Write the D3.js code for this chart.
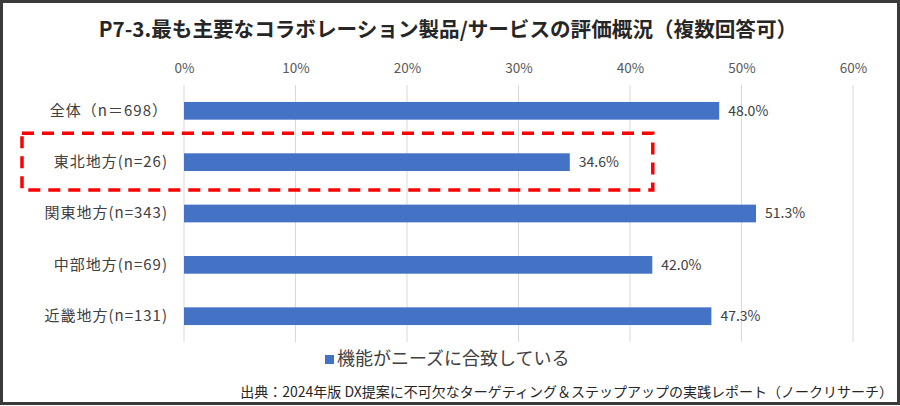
<!DOCTYPE html>
<html>
<head>
<meta charset="utf-8">
<script src="https://cdn.jsdelivr.net/npm/d3@7"></script>
<style>
  html, body { margin: 0; padding: 0; background: #fff; }
  svg { display: block; font-family: "Noto Sans CJK JP", "Noto Sans", sans-serif; }
</style>
</head>
<body>
<div id="chart"></div>
<script>
var categories = ["全体（n＝698）", "東北地方(n=26)", "関東地方(n=343)", "中部地方(n=69)", "近畿地方(n=131)"];
var values = [48.0, 34.6, 51.3, 42.0, 47.3];
var tickValues = [0, 10, 20, 30, 40, 50, 60];
var highlighted = "東北地方(n=26)";
var seriesName = "機能がニーズに合致している";
var title = "P7-3.最も主要なコラボレーション製品/サービスの評価概況（複数回答可）";
var source = "出典：2024年版 DX提案に不可欠なターゲティング＆ステップアップの実践レポート（ノークリサーチ）";

var W = 900, H = 406;
var margin = {top: 85, right: 47, bottom: 64, left: 184};
var width = W - margin.left - margin.right;
var height = H - margin.top - margin.bottom;

var svg = d3.select("#chart")
  .append("svg")
    .attr("width", W)
    .attr("height", H);

// frame
svg.append("rect")
    .attr("x", 1.5).attr("y", 1.5)
    .attr("width", W - 3).attr("height", H - 4)
    .attr("fill", "#fff")
    .attr("stroke", "#3a3a3a")
    .attr("stroke-width", 3);

svg.append("text")
    .attr("x", 448)
    .attr("y", 37)
    .attr("text-anchor", "middle")
    .style("font-size", "20.6px")
    .style("font-weight", "bold")
    .attr("fill", "#262626")
    .text(title);

var g = svg.append("g")
    .attr("transform", "translate(" + margin.left + "," + margin.top + ")");

var x = d3.scaleLinear()
    .domain([0, 60])
    .range([0, width]);

var y = d3.scaleBand()
    .domain(categories)
    .range([0, height])
    .paddingInner(0.655)
    .paddingOuter(0.33);

// top axis with grid
var xAxis = g.append("g")
    .call(d3.axisTop(x).tickValues(tickValues).tickSize(0).tickPadding(0)
        .tickFormat(function (d) { return d + "%"; }));
xAxis.select(".domain").remove();
xAxis.selectAll("text")
    .attr("y", -12)
    .attr("fill", "#595959")
    .style("font-size", "13.5px")
    .style("font-family", "\"Noto Sans CJK JP\", sans-serif");

g.append("g")
  .selectAll("line")
  .data(tickValues)
  .enter()
  .append("line")
    .attr("x1", function (d) { return x(d); })
    .attr("x2", function (d) { return x(d); })
    .attr("y1", 0)
    .attr("y2", height)
    .attr("stroke", "#d9d9d9")
    .attr("stroke-width", 1);

// category labels
var yAxis = g.append("g")
    .call(d3.axisLeft(y).tickSize(0).tickPadding(16));
yAxis.select(".domain").remove();
yAxis.selectAll("text")
    .attr("fill", "#404040")
    .style("font-size", "15px")
    .style("letter-spacing", "1px")
    .style("font-family", "\"Noto Sans CJK JP\", sans-serif");

// bars
g.append("g")
  .selectAll("rect")
  .data(values)
  .enter()
  .append("rect")
    .attr("x", 0)
    .attr("y", function (d, i) { return y(categories[i]); })
    .attr("width", function (d) { return x(d); })
    .attr("height", y.bandwidth())
    .attr("fill", "#4472c4");

g.append("g")
  .selectAll("text")
  .data(values)
  .enter()
  .append("text")
    .attr("x", function (d) { return x(d) + 9; })
    .attr("y", function (d, i) { return y(categories[i]) + y.bandwidth() / 2; })
    .attr("dy", "0.35em")
    .attr("fill", "#404040")
    .style("font-size", "14px")
    .text(function (d) { return d.toFixed(1) + "%"; });

// red dashed highlight box
var hy = y(highlighted);
var hx2 = x(values[categories.indexOf(highlighted)]) + 83;
g.append("rect")
    .attr("x", 22 - margin.left)
    .attr("y", hy - 20)
    .attr("width", hx2 - (22 - margin.left))
    .attr("height", y.bandwidth() + 39)
    .attr("fill", "none")
    .attr("stroke", "#ff0000")
    .attr("stroke-width", 3.5)
    .attr("stroke-dasharray", "12,8");

// legend
var legend = svg.append("g")
    .attr("transform", "translate(325," + 359 + ")");
legend.append("rect")
    .attr("x", 0).attr("y", -4)
    .attr("width", 9).attr("height", 9)
    .attr("fill", "#4472c4");
legend.append("text")
    .attr("x", 12)
    .attr("dy", "0.35em")
    .attr("fill", "#404040")
    .style("font-size", "18px")
    .text(seriesName);

svg.append("text")
    .attr("x", 893)
    .attr("y", 392)
    .attr("dy", "0.35em")
    .attr("text-anchor", "end")
    .attr("fill", "#262626")
    .style("font-size", "14px")
    .text(source);
</script>
</body>
</html>
